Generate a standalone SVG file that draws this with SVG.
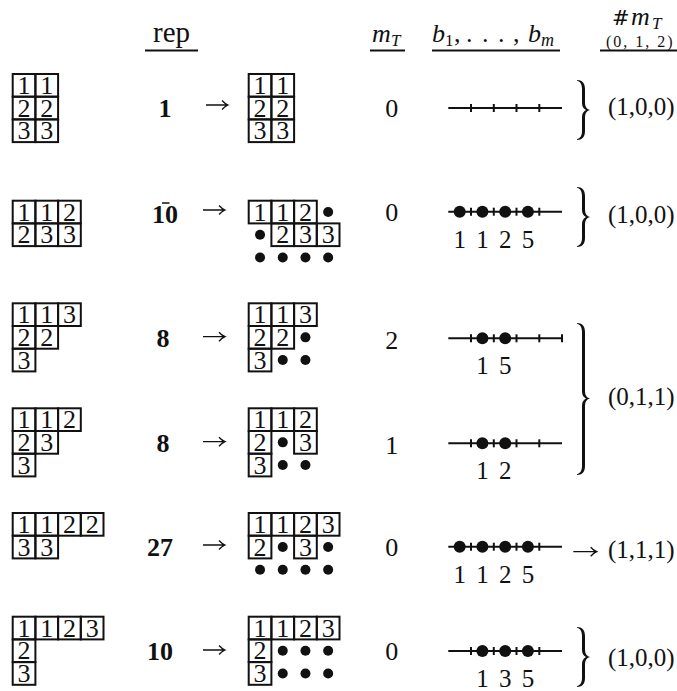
<svg xmlns="http://www.w3.org/2000/svg" width="677" height="691" viewBox="0 0 677 691">
<style>
text{font-family:"Liberation Serif","Times New Roman",serif;fill:#111}
.d{font-size:26px;text-anchor:middle}
.b{font-size:26px;font-weight:bold;text-anchor:middle}
.l{font-size:25px;text-anchor:middle}
.r{font-size:25px}
.i{font-style:italic}
.c{fill:none;stroke:#111;stroke-width:2}
.u{stroke:#111;stroke-width:2}
.nl{stroke:#111;stroke-width:2}
.tk{stroke:#111;stroke-width:2}
.dot{fill:#111}
.ar{fill:none;stroke:#111;stroke-width:1.3}
.br{fill:#111;stroke:none}
</style>
<defs>
<rect id="cell" class="c" width="22.7" height="22.7"/>
<circle id="td" class="dot" r="5"/>
<circle id="nd" class="dot" r="6"/>
<g id="nline"><line class="nl" x1="448.3" y1="0" x2="562" y2="0"/><line class="tk" x1="471" y1="-4" x2="471" y2="4"/><line class="tk" x1="493.8" y1="-4" x2="493.8" y2="4"/><line class="tk" x1="516.5" y1="-4" x2="516.5" y2="4"/><line class="tk" x1="539.3" y1="-4" x2="539.3" y2="4"/></g>
</defs>

<g id="header">
<text x="171.5" y="42" font-size="29" text-anchor="middle">rep</text>
<line class="u" x1="145" y1="50.5" x2="198" y2="50.5"/>
<text font-size="26"><tspan class="i" x="372" y="42">m</tspan><tspan class="i" font-size="17" x="391" y="46">T</tspan></text>
<line class="u" x1="370" y1="50.5" x2="405" y2="50.5"/>
<text font-size="26"><tspan class="i" x="432" y="42">b</tspan><tspan font-size="17" x="445" y="46">1</tspan><tspan x="454" y="42">,</tspan><tspan x="466" y="42">.</tspan><tspan x="482" y="42">.</tspan><tspan x="498" y="42">.</tspan><tspan x="513" y="42">,</tspan><tspan class="i" x="528" y="42">b</tspan><tspan class="i" font-size="18" x="541" y="46">m</tspan></text>
<line class="u" x1="432" y1="50.5" x2="560" y2="50.5"/>
<text y="25"><tspan x="612" font-family="DejaVu Serif,serif" font-size="21">#</tspan><tspan class="i" font-size="26" x="631">m</tspan><tspan class="i" font-size="17" x="652" y="29">T</tspan></text>
<text x="606" y="47" font-size="16" letter-spacing="2">(0, 1, 2)</text>
<line class="u" x1="600" y1="50.5" x2="677" y2="50.5"/>
</g>

<!-- Row 1 -->
<g id="row1-left">
<use href="#cell" x="12.7" y="74"/><use href="#cell" x="35.4" y="74"/>
<use href="#cell" x="12.7" y="96.7"/><use href="#cell" x="35.4" y="96.7"/>
<use href="#cell" x="12.7" y="119.4"/><use href="#cell" x="35.4" y="119.4"/>
<text class="d" x="24.05" y="94">1</text><text class="d" x="46.75" y="94">1</text>
<text class="d" x="24.05" y="116.7">2</text><text class="d" x="46.75" y="116.7">2</text>
<text class="d" x="24.05" y="139.4">3</text><text class="d" x="46.75" y="139.4">3</text>
</g>
<g id="row1-rep"><text class="b" x="165" y="117">1</text></g>
<g id="row1-right">
<use href="#cell" x="248.7" y="74"/><use href="#cell" x="271.4" y="74"/>
<use href="#cell" x="248.7" y="96.7"/><use href="#cell" x="271.4" y="96.7"/>
<use href="#cell" x="248.7" y="119.4"/><use href="#cell" x="271.4" y="119.4"/>
<text class="d" x="260.05" y="94">1</text><text class="d" x="282.75" y="94">1</text>
<text class="d" x="260.05" y="116.7">2</text><text class="d" x="282.75" y="116.7">2</text>
<text class="d" x="260.05" y="139.4">3</text><text class="d" x="282.75" y="139.4">3</text>
</g>
<g id="row1-mt"><text class="d" x="391.7" y="117">0</text></g>
<g id="row1-line"><use href="#nline" y="108"/></g>
<g id="row1-count"><text class="r" x="608" y="114.5">(1,0,0)</text></g>

<!-- Row 2 -->
<g id="row2-left">
<use href="#cell" x="12.7" y="200.7"/><use href="#cell" x="35.4" y="200.7"/><use href="#cell" x="58.1" y="200.7"/>
<use href="#cell" x="12.7" y="223.4"/><use href="#cell" x="35.4" y="223.4"/><use href="#cell" x="58.1" y="223.4"/>
<text class="d" x="24.05" y="220.7">1</text><text class="d" x="46.75" y="220.7">1</text><text class="d" x="69.45" y="220.7">2</text>
<text class="d" x="24.05" y="243.4">2</text><text class="d" x="46.75" y="243.4">3</text><text class="d" x="69.45" y="243.4">3</text>
</g>
<g id="row2-rep"><text class="b" x="165" y="223">10</text><line x1="162" y1="203" x2="169.5" y2="203" stroke="#111" stroke-width="1.5"/></g>
<g id="row2-right">
<use href="#cell" x="248.7" y="200.7"/><use href="#cell" x="271.4" y="200.7"/><use href="#cell" x="294.1" y="200.7"/>
<use href="#cell" x="271.4" y="223.4"/><use href="#cell" x="294.1" y="223.4"/><use href="#cell" x="316.8" y="223.4"/>
<text class="d" x="260.05" y="220.7">1</text><text class="d" x="282.75" y="220.7">1</text><text class="d" x="305.45" y="220.7">2</text>
<text class="d" x="282.75" y="243.4">2</text><text class="d" x="305.45" y="243.4">3</text><text class="d" x="328.15" y="243.4">3</text>
<use href="#td" x="328.15" y="212.05"/><use href="#td" x="260.05" y="234.75"/>
<use href="#td" x="260.05" y="257.45"/><use href="#td" x="282.75" y="257.45"/><use href="#td" x="305.45" y="257.45"/><use href="#td" x="328.15" y="257.45"/>
</g>
<g id="row2-mt"><text class="d" x="391.7" y="221">0</text></g>
<g id="row2-line"><use href="#nline" y="211.7"/>
<use href="#nd" x="459.7" y="211.7"/><use href="#nd" x="482.4" y="211.7"/><use href="#nd" x="505.2" y="211.7"/><use href="#nd" x="527.9" y="211.7"/>
<text class="l" x="459.7" y="247.5">1</text><text class="l" x="482.4" y="247.5">1</text><text class="l" x="505.2" y="247.5">2</text><text class="l" x="527.9" y="247.5">5</text>
</g>
<g id="row2-count"><text class="r" x="608" y="223">(1,0,0)</text></g>

<!-- Row 3 -->
<g id="row3-left">
<use href="#cell" x="12.7" y="303.3"/><use href="#cell" x="35.4" y="303.3"/><use href="#cell" x="58.1" y="303.3"/>
<use href="#cell" x="12.7" y="326"/><use href="#cell" x="35.4" y="326"/>
<use href="#cell" x="12.7" y="348.7"/>
<text class="d" x="24.05" y="323.3">1</text><text class="d" x="46.75" y="323.3">1</text><text class="d" x="69.45" y="323.3">3</text>
<text class="d" x="24.05" y="346">2</text><text class="d" x="46.75" y="346">2</text>
<text class="d" x="24.05" y="368.7">3</text>
</g>
<g id="row3-rep"><text class="b" x="163" y="346.5">8</text></g>
<g id="row3-right">
<use href="#cell" x="248.7" y="303.3"/><use href="#cell" x="271.4" y="303.3"/><use href="#cell" x="294.1" y="303.3"/>
<use href="#cell" x="248.7" y="326"/><use href="#cell" x="271.4" y="326"/>
<use href="#cell" x="248.7" y="348.7"/>
<text class="d" x="260.05" y="323.3">1</text><text class="d" x="282.75" y="323.3">1</text><text class="d" x="305.45" y="323.3">3</text>
<text class="d" x="260.05" y="346">2</text><text class="d" x="282.75" y="346">2</text>
<text class="d" x="260.05" y="368.7">3</text>
<use href="#td" x="305.45" y="337.35"/><use href="#td" x="282.75" y="360.05"/><use href="#td" x="305.45" y="360.05"/>
</g>
<g id="row3-mt"><text class="d" x="391.7" y="348.5">2</text></g>
<g id="row3-line"><use href="#nline" y="338.3"/><line class="tk" x1="562" y1="334.3" x2="562" y2="342.3"/>
<use href="#nd" x="482.4" y="338.3"/><use href="#nd" x="505.2" y="338.3"/>
<text class="l" x="482.4" y="374">1</text><text class="l" x="505.2" y="374">5</text>
</g>

<!-- Row 4 -->
<g id="row4-left">
<use href="#cell" x="12.7" y="408.3"/><use href="#cell" x="35.4" y="408.3"/><use href="#cell" x="58.1" y="408.3"/>
<use href="#cell" x="12.7" y="431"/><use href="#cell" x="35.4" y="431"/>
<use href="#cell" x="12.7" y="453.7"/>
<text class="d" x="24.05" y="428.3">1</text><text class="d" x="46.75" y="428.3">1</text><text class="d" x="69.45" y="428.3">2</text>
<text class="d" x="24.05" y="451">2</text><text class="d" x="46.75" y="451">3</text>
<text class="d" x="24.05" y="473.7">3</text>
</g>
<g id="row4-rep"><text class="b" x="163" y="452">8</text></g>
<g id="row4-right">
<use href="#cell" x="248.7" y="408.3"/><use href="#cell" x="271.4" y="408.3"/><use href="#cell" x="294.1" y="408.3"/>
<use href="#cell" x="248.7" y="431"/><use href="#cell" x="294.1" y="431"/>
<use href="#cell" x="248.7" y="453.7"/>
<text class="d" x="260.05" y="428.3">1</text><text class="d" x="282.75" y="428.3">1</text><text class="d" x="305.45" y="428.3">2</text>
<text class="d" x="260.05" y="451">2</text><text class="d" x="305.45" y="451">3</text>
<text class="d" x="260.05" y="473.7">3</text>
<use href="#td" x="282.75" y="442.35"/><use href="#td" x="282.75" y="465.05"/><use href="#td" x="305.45" y="465.05"/>
</g>
<g id="row4-mt"><text class="d" x="391.7" y="453.5">1</text></g>
<g id="row4-line"><use href="#nline" y="443.3"/>
<use href="#nd" x="482.4" y="443.3"/><use href="#nd" x="505.2" y="443.3"/>
<text class="l" x="482.4" y="479">1</text><text class="l" x="505.2" y="479">2</text>
</g>
<g id="row34-count"><text class="r" x="608" y="405">(0,1,1)</text></g>

<!-- Row 5 -->
<g id="row5-left">
<use href="#cell" x="12.7" y="513"/><use href="#cell" x="35.4" y="513"/><use href="#cell" x="58.1" y="513"/><use href="#cell" x="80.8" y="513"/>
<use href="#cell" x="12.7" y="535.7"/><use href="#cell" x="35.4" y="535.7"/>
<text class="d" x="24.05" y="533">1</text><text class="d" x="46.75" y="533">1</text><text class="d" x="69.45" y="533">2</text><text class="d" x="92.15" y="533">2</text>
<text class="d" x="24.05" y="555.7">3</text><text class="d" x="46.75" y="555.7">3</text>
</g>
<g id="row5-rep"><text class="b" x="160" y="556">27</text></g>
<g id="row5-right">
<use href="#cell" x="248.7" y="513"/><use href="#cell" x="271.4" y="513"/><use href="#cell" x="294.1" y="513"/><use href="#cell" x="316.8" y="513"/>
<use href="#cell" x="248.7" y="535.7"/><use href="#cell" x="294.1" y="535.7"/>
<text class="d" x="260.05" y="533">1</text><text class="d" x="282.75" y="533">1</text><text class="d" x="305.45" y="533">2</text><text class="d" x="328.15" y="533">3</text>
<text class="d" x="260.05" y="555.7">2</text><text class="d" x="305.45" y="555.7">3</text>
<use href="#td" x="282.75" y="547.05"/><use href="#td" x="328.15" y="547.05"/>
<use href="#td" x="260.05" y="569.75"/><use href="#td" x="282.75" y="569.75"/><use href="#td" x="305.45" y="569.75"/><use href="#td" x="328.15" y="569.75"/>
</g>
<g id="row5-mt"><text class="d" x="391.7" y="556">0</text></g>
<g id="row5-line"><use href="#nline" y="546.7"/>
<use href="#nd" x="459.7" y="546.7"/><use href="#nd" x="482.4" y="546.7"/><use href="#nd" x="505.2" y="546.7"/><use href="#nd" x="527.9" y="546.7"/>
<text class="l" x="459.7" y="583">1</text><text class="l" x="482.4" y="583">1</text><text class="l" x="505.2" y="583">2</text><text class="l" x="527.9" y="583">5</text>
</g>
<g id="row5-count"><text class="r" x="608" y="558">(1,1,1)</text></g>

<!-- Row 6 -->
<g id="row6-left">
<use href="#cell" x="12.7" y="616.7"/><use href="#cell" x="35.4" y="616.7"/><use href="#cell" x="58.1" y="616.7"/><use href="#cell" x="80.8" y="616.7"/>
<use href="#cell" x="12.7" y="639.4"/>
<use href="#cell" x="12.7" y="662.1"/>
<text class="d" x="24.05" y="636.7">1</text><text class="d" x="46.75" y="636.7">1</text><text class="d" x="69.45" y="636.7">2</text><text class="d" x="92.15" y="636.7">3</text>
<text class="d" x="24.05" y="659.4">2</text>
<text class="d" x="24.05" y="682.1">3</text>
</g>
<g id="row6-rep"><text class="b" x="160" y="659.5">10</text></g>
<g id="row6-right">
<use href="#cell" x="248.7" y="616.7"/><use href="#cell" x="271.4" y="616.7"/><use href="#cell" x="294.1" y="616.7"/><use href="#cell" x="316.8" y="616.7"/>
<use href="#cell" x="248.7" y="639.4"/>
<use href="#cell" x="248.7" y="662.1"/>
<text class="d" x="260.05" y="636.7">1</text><text class="d" x="282.75" y="636.7">1</text><text class="d" x="305.45" y="636.7">2</text><text class="d" x="328.15" y="636.7">3</text>
<text class="d" x="260.05" y="659.4">2</text>
<text class="d" x="260.05" y="682.1">3</text>
<use href="#td" x="282.75" y="650.75"/><use href="#td" x="305.45" y="650.75"/><use href="#td" x="328.15" y="650.75"/>
<use href="#td" x="282.75" y="673.45"/><use href="#td" x="305.45" y="673.45"/><use href="#td" x="328.15" y="673.45"/>
</g>
<g id="row6-mt"><text class="d" x="391.7" y="660">0</text></g>
<g id="row6-line"><use href="#nline" y="651"/>
<use href="#nd" x="482.4" y="651"/><use href="#nd" x="505.2" y="651"/><use href="#nd" x="527.9" y="651"/>
<text class="l" x="482.4" y="687">1</text><text class="l" x="505.2" y="687">3</text><text class="l" x="527.9" y="687">5</text>
</g>
<g id="row6-count"><text class="r" x="608" y="665.5">(1,0,0)</text></g>

<g id="connectors">
<path class="ar" d="M206,105 H228 M222,100.5 Q225,103.8 228,105 Q225,106.2 222,109.5"/>
<path class="ar" d="M203,210 H225 M219,205.5 Q222,208.8 225,210 Q222,211.2 219,214.5"/>
<path class="ar" d="M203,336.7 H225 M219,332.2 Q222,335.5 225,336.7 Q222,337.9 219,341.2"/>
<path class="ar" d="M203,441.7 H225 M219,437.2 Q222,440.5 225,441.7 Q222,442.9 219,446.2"/>
<path class="ar" d="M203,545 H225 M219,540.5 Q222,543.8 225,545 Q222,546.2 219,549.5"/>
<path class="ar" d="M203,650 H225 M219,645.5 Q222,648.8 225,650 Q222,651.2 219,654.5"/>
<path class="ar" d="M573.3,551.7 H596.7 M590.7,547.2 Q593.7,550.5 596.7,551.7 Q593.7,552.9 590.7,556.2"/>
<path class="br" d="M577,80 C582,80 585,83 585,89 L585,103 C585,107 587,109.2 590,110 C587,110.8 585,113 585,117 L585,131 C585,137 582,140 577,140 L577,139.2 C580,138.5 582,136 582,131 L582,117 C582,113 584,111 586,110 C584,109 582,107 582,103 L582,89 C582,84 580,81.5 577,80.8 Z"/>
<path class="br" d="M577,187 C582,187 585,190 585,196 L585,210 C585,214 587,216.2 590,217 C587,217.8 585,220 585,224 L585,238 C585,244 582,247 577,247 L577,246.2 C580,245.5 582,243 582,238 L582,224 C582,220 584,218 586,217 C584,216 582,214 582,210 L582,196 C582,191 580,188.5 577,187.8 Z"/>
<path class="br" d="M577,323 C582,323 585,326 585,332 L585,391.5 C585,395.5 587,397.7 590,398.5 C587,399.3 585,401.5 585,405.5 L585,466 C585,472 582,475 577,475 L577,474.2 C580,473.5 582,471 582,466 L582,405.5 C582,401.5 584,399.5 586,398.5 C584,397.5 582,395.5 582,391.5 L582,332 C582,327 580,324.5 577,323.8 Z"/>
<path class="br" d="M577,627 C582,627 585,630 585,636 L585,650 C585,654 587,656.2 590,657 C587,657.8 585,660 585,664 L585,678 C585,684 582,687 577,687 L577,686.2 C580,685.5 582,683 582,678 L582,664 C582,660 584,658 586,657 C584,656 582,654 582,650 L582,636 C582,631 580,628.5 577,627.8 Z"/>
</g>
</svg>
